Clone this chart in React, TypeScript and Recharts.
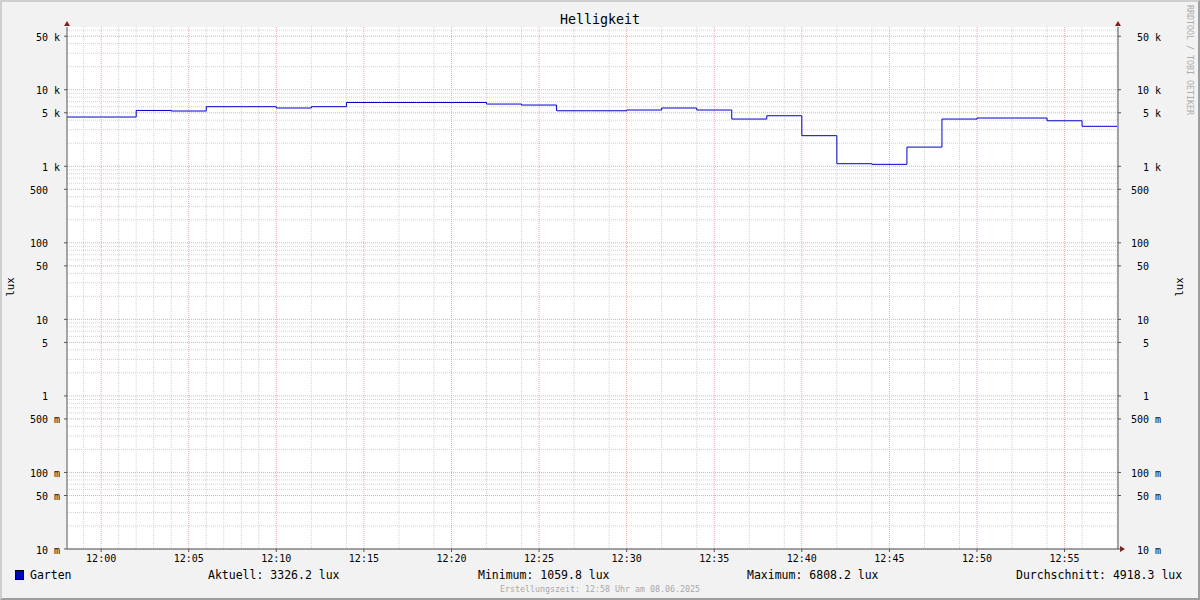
import React from 'react';
import { LineChart, Line, XAxis, YAxis, CartesianGrid } from 'recharts';

const TITLE = 'Helligkeit';
const UNIT = 'lux';
const SERIES_NAME = 'Garten';
const SERIES_COLOR = '#0000cc';
const WATERMARK = 'RRDTOOL / TOBI OETIKER';
const CREATED = 'Erstellungszeit: 12:58 Uhr am 08.06.2025';

// step start times (each value holds until the next time)
const stepStarts = [
  '11:58', '12:00', '12:02', '12:04', '12:06', '12:08', '12:10', '12:12', '12:14', '12:16',
  '12:18', '12:20', '12:22', '12:24', '12:26', '12:28', '12:30', '12:32', '12:34', '12:36',
  '12:38', '12:40', '12:42', '12:44', '12:46', '12:48', '12:50', '12:52', '12:54', '12:56',
  '12:58',
];
const gartenLux = [
  4400, 4400, 5360, 5270, 6000, 6000, 5770, 6000, 6808.2, 6808.2,
  6808.2, 6808.2, 6500, 6310, 5310, 5310, 5430, 5770, 5430, 4140,
  4570, 2510, 1080, 1059.8, 1780, 4140, 4270, 4270, 3930, 3326.2,
  3326.2,
];

const statLabels = ['Aktuell', 'Minimum', 'Maximum', 'Durchschnitt'];
const statValues = [3326.2, 1059.8, 6808.2, 4918.3];

const xTickLabels = ['12:00', '12:05', '12:10', '12:15', '12:20', '12:25', '12:30', '12:35', '12:40', '12:45', '12:50', '12:55'];
const yTickValues = [0.01, 0.05, 0.1, 0.5, 1, 5, 10, 50, 100, 500, 1000, 5000, 10000, 50000];
const yTickLabels = ['10 m', '50 m', '100 m', '500 m', '1  ', '5  ', '10  ', '50  ', '100  ', '500  ', '1 k', '5 k', '10 k', '50 k'];

const X_START = '11:58:03';
const X_END = '12:58:03';
const Y_DOMAIN: [number, number] = [0.01, 66000];

const toMin = (t: string) => {
  const p = t.split(':').map(Number);
  return p[0] * 60 + p[1] + (p[2] || 0) / 60 - 12 * 60;
};

const data = stepStarts.map((t, i) => ({ t: toMin(t), lux: gartenLux[i] }));
const xTickValues = xTickLabels.map(toMin);

// grid lines
const yMinorGrid: number[] = [];
for (let d = 0.01; d <= 10000.1; d *= 10) {
  for (let k = 2; k <= 9; k++) {
    if (k === 5) continue;
    const v = +(d * k).toPrecision(3);
    if (v <= 60000) yMinorGrid.push(v);
  }
}
const xMinorGrid: number[] = [];
for (let m = Math.ceil(toMin(X_START)); m <= Math.floor(toMin(X_END)); m++) {
  if (m % 5 !== 0) xMinorGrid.push(m);
}

const FONT = '"DejaVu Sans Mono", monospace';
const AXIS_COLOR = '#555555';
const ARROW_COLOR = '#7f1f1f';

function YTick(props: any) {
  const { x, y, payload } = props;
  const idx = yTickValues.indexOf(payload.value);
  const label = idx >= 0 ? yTickLabels[idx] : String(payload.value);
  return (
    <text x={x} y={y + 1} textAnchor="end" dominantBaseline="central" fontFamily={FONT} fontSize={10} fill="#000"
      xmlSpace="preserve" style={{ whiteSpace: 'pre' }}>
      {label}
    </text>
  );
}

function XTick(props: any) {
  const { x, y, payload } = props;
  const idx = xTickValues.findIndex((v) => Math.abs(v - payload.value) < 1e-6);
  const label = idx >= 0 ? xTickLabels[idx] : '';
  return (
    <text x={x} y={y} textAnchor="middle" dominantBaseline="central" fontFamily={FONT} fontSize={10} fill="#000">
      {label}
    </text>
  );
}

const upArrowAt = (ax: number, ay: number) => (
  <polygon points={`${ax},${ay - 6} ${ax - 3},${ay - 1} ${ax + 3},${ay - 1}`} fill={ARROW_COLOR} />
);

const leftArrow = (props: any) => {
  const vb = props.viewBox || {};
  return upArrowAt(vb.x + vb.width, vb.y);
};
const rightArrow = (props: any) => {
  const vb = props.viewBox || {};
  return upArrowAt(vb.x, vb.y);
};
const xArrow = (props: any) => {
  const vb = props.viewBox || {};
  const ax = vb.x + vb.width;
  const ay = vb.y;
  return <polygon points={`${ax + 7},${ay} ${ax + 2},${ay - 3} ${ax + 2},${ay + 3}`} fill={ARROW_COLOR} />;
};

const textBase: React.CSSProperties = {
  position: 'absolute',
  fontFamily: FONT,
  whiteSpace: 'pre',
  lineHeight: 1,
};

export default function App() {
  const legendLefts = [208, 478, 747, 1016];
  return (
    <div style={{ position: 'absolute', left: 0, top: 0, width: 1200, height: 600, overflow: 'hidden' }}>
      <div
        style={{
          position: 'absolute', left: 0, top: 0, width: 1200, height: 600, boxSizing: 'border-box',
          background: '#f2f2f2', borderTop: '2px solid #cfcfcf', borderLeft: '2px solid #cfcfcf',
          borderRight: '2px solid #9e9e9e', borderBottom: '2px solid #9e9e9e',
        }}
      />
      <div style={{ position: 'absolute', left: 0, top: 0 }}>
        <LineChart width={1200} height={600} data={data} margin={{ top: 27, right: 22, bottom: 21, left: 7 }}>
          <CartesianGrid
            fill="#ffffff"
            stroke="#d2d2d2"
            strokeDasharray="1 1"
            horizontalValues={yMinorGrid}
            verticalValues={xMinorGrid}
          />
          <CartesianGrid
            stroke="#eea6a6"
            strokeDasharray="1 1"
            horizontalValues={yTickValues}
            verticalValues={xTickValues}
          />
          <XAxis
            dataKey="t"
            type="number"
            domain={[toMin(X_START), toMin(X_END)]}
            allowDataOverflow
            ticks={xTickValues}
            tick={<XTick />}
            tickSize={3}
            tickMargin={6}
            height={30}
            axisLine={{ stroke: AXIS_COLOR }}
            tickLine={{ stroke: AXIS_COLOR }}
            label={xArrow}
          />
          <YAxis
            type="number"
            scale="log"
            domain={Y_DOMAIN}
            allowDataOverflow
            ticks={yTickValues}
            interval={0}
            tick={<YTick />}
            tickSize={3}
            tickMargin={4}
            width={60}
            axisLine={{ stroke: AXIS_COLOR }}
            tickLine={{ stroke: AXIS_COLOR }}
            label={leftArrow}
          />
          <YAxis
            yAxisId="right"
            orientation="right"
            type="number"
            scale="log"
            domain={Y_DOMAIN}
            allowDataOverflow
            ticks={yTickValues}
            interval={0}
            tick={<YTick />}
            tickSize={3}
            tickMargin={40}
            width={60}
            axisLine={{ stroke: AXIS_COLOR }}
            tickLine={{ stroke: AXIS_COLOR }}
            label={rightArrow}
          />
          <Line
            type="stepAfter"
            dataKey="lux"
            name={SERIES_NAME}
            stroke={SERIES_COLOR}
            strokeWidth={1}
            dot={false}
            activeDot={false}
            isAnimationActive={false}
          />
        </LineChart>
      </div>

      {/* title */}
      <div style={{ ...textBase, left: 600, top: 20, fontSize: 13.3, color: '#000', transform: 'translate(-50%, -50%)' }}>{TITLE}</div>
      {/* axis unit labels */}
      <div style={{ ...textBase, left: 10, top: 287, fontSize: 10.5, color: '#000', transform: 'translate(-50%, -50%) rotate(-90deg)' }}>{UNIT}</div>
      <div style={{ ...textBase, left: 1179, top: 287, fontSize: 10.5, color: '#000', transform: 'translate(-50%, -50%) rotate(-90deg)' }}>{UNIT}</div>
      {/* watermark */}
      <div style={{ ...textBase, left: 1190, top: 60, fontSize: 8.3, color: '#acacac', transform: 'translate(-50%, -50%) rotate(90deg)' }}>{WATERMARK}</div>
      {/* legend */}
      <div style={{ position: 'absolute', left: 15, top: 570, width: 9, height: 10, boxSizing: 'border-box', background: SERIES_COLOR, border: '1px solid #000' }} />
      <div style={{ ...textBase, left: 30, top: 576, fontSize: 11.5, color: '#000', transform: 'translateY(-50%)' }}>{SERIES_NAME}</div>
      {statLabels.map((l, i) => (
        <div key={l} style={{ ...textBase, left: legendLefts[i], top: 576, fontSize: 11.5, color: '#000', transform: 'translateY(-50%)' }}>
          {`${l}: ${statValues[i].toFixed(1)} ${UNIT}`}
        </div>
      ))}
      <div style={{ ...textBase, left: 600, top: 589, fontSize: 8.3, color: '#a8a8a8', transform: 'translate(-50%, -50%)' }}>{CREATED}</div>
    </div>
  );
}
